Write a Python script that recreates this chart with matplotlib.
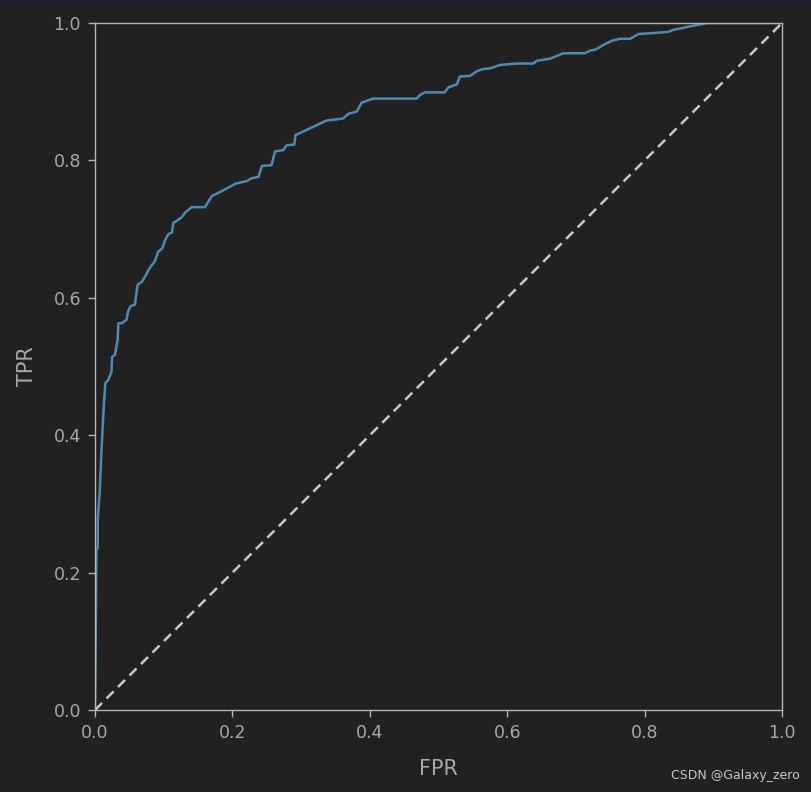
import matplotlib
matplotlib.use("Agg")
from matplotlib import pyplot as plt
from matplotlib.patches import Rectangle

# ROC curve points
fpr = [0.0, 0.001, 0.002, 0.004, 0.004, 0.007, 0.009, 0.012, 0.015, 0.019,
       0.024, 0.025, 0.029, 0.033, 0.034, 0.039, 0.046, 0.048, 0.052, 0.058,
       0.062, 0.068, 0.073, 0.077, 0.083, 0.087, 0.092, 0.098, 0.102, 0.107,
       0.112, 0.114, 0.119, 0.126, 0.131, 0.141, 0.160, 0.165, 0.170, 0.182,
       0.197, 0.204, 0.221, 0.228, 0.238, 0.243, 0.257, 0.262, 0.274, 0.279,
       0.290, 0.292, 0.303, 0.318, 0.337, 0.361, 0.369, 0.381, 0.388, 0.405,
       0.468, 0.473, 0.480, 0.509, 0.514, 0.527, 0.531, 0.546, 0.556, 0.565,
       0.575, 0.590, 0.614, 0.638, 0.643, 0.662, 0.682, 0.713, 0.721, 0.728,
       0.740, 0.752, 0.764, 0.779, 0.791, 0.808, 0.834, 0.842, 0.861, 0.881,
       0.892, 1.0]
tpr = [0.0, 0.10, 0.233, 0.236, 0.277, 0.320, 0.368, 0.429, 0.476, 0.480,
       0.492, 0.514, 0.517, 0.539, 0.563, 0.563, 0.568, 0.580, 0.588, 0.590,
       0.619, 0.623, 0.631, 0.639, 0.648, 0.653, 0.667, 0.672, 0.684, 0.693,
       0.695, 0.709, 0.712, 0.717, 0.724, 0.732, 0.732, 0.740, 0.748, 0.754,
       0.762, 0.766, 0.770, 0.774, 0.776, 0.792, 0.793, 0.813, 0.815, 0.822,
       0.823, 0.837, 0.842, 0.849, 0.858, 0.861, 0.868, 0.871, 0.884, 0.890,
       0.890, 0.895, 0.899, 0.899, 0.906, 0.911, 0.922, 0.923, 0.930, 0.933,
       0.934, 0.939, 0.941, 0.941, 0.945, 0.948, 0.956, 0.956, 0.960, 0.961,
       0.968, 0.974, 0.977, 0.977, 0.984, 0.985, 0.987, 0.990, 0.994, 0.998,
       1.0, 1.0]

ticks = [0.0, 0.2, 0.4, 0.6, 0.8, 1.0]

bg = "#212121"
fg = "#b4b4b4"

fig = plt.figure(figsize=(8.11, 7.92), dpi=100, facecolor=bg)
# thin dark strip along the top edge
fig.patches.append(Rectangle((0, 0.996), 1, 0.004, transform=fig.transFigure,
                             facecolor="#1b1f2c", edgecolor="none"))
ax = fig.add_axes([95/811, 82/792, 687/811, 687/792], facecolor=bg)

ax.plot(fpr, tpr, color="#5089ae", linewidth=1.8)
ax.plot([0, 1], [0, 1], color="#c8c8c8", linestyle="--", linewidth=1.8,
        dashes=(4, 2.5))

ax.set_xlim(0, 1)
ax.set_ylim(0, 1)
ax.set_xticks(ticks)
ax.set_yticks(ticks)
ax.set_xticklabels([f"{t:.1f}" for t in ticks])
ax.set_yticklabels([f"{t:.1f}" for t in ticks])

for s in ax.spines.values():
    s.set_color(fg)
    s.set_linewidth(1.0)
ax.tick_params(colors=fg, labelsize=12.5, length=5, width=1.0, pad=5)
ax.tick_params(axis="x", labelcolor="#a8a8a8")
ax.tick_params(axis="y", labelcolor="#a8a8a8")

ax.set_xlabel("FPR", color="#a8a8a8", fontsize=15, labelpad=12)
ax.set_ylabel("TPR", color="#a8a8a8", fontsize=15, labelpad=12)

fig.text(800/811, 1 - 776/792, "CSDN @Galaxy_zero", color="#c8c8c8",
         fontsize=9, ha="right", va="center")

fig.savefig("out.png", dpi=100, facecolor=bg)
